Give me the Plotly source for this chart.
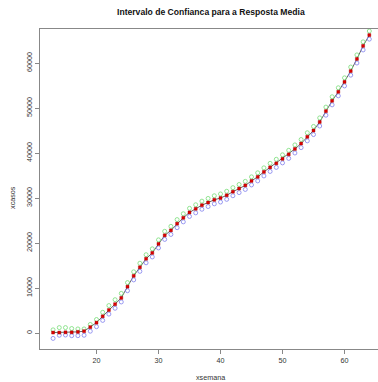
import plotly.graph_objects as go

semana = list(range(13, 65))

ajustado = [100, 100, 150, 150, 250, 400, 1300, 2300, 3700, 5100,
            6400, 7800, 10300, 12700, 14600, 16500, 17800, 19800, 21700, 22800,
            24300, 25600, 26800, 27600, 28400, 29000, 29600, 30000, 30600, 31400,
            32100, 32800, 33800, 34700, 35800, 36800, 37700, 38700, 39700, 40900,
            42100, 43600, 45000, 46900, 49300, 51600, 53600, 55800, 58200, 60900,
            63800, 66200]

superior = [700, 1200, 1200, 1000, 900, 900, 1900, 3000, 4600, 6100,
            7400, 8800, 11200, 13600, 15500, 17400, 18700, 20700, 22600, 23700,
            25200, 26500, 27700, 28500, 29300, 29900, 30500, 30900, 31500, 32300,
            33000, 33700, 34700, 35600, 36700, 37700, 38600, 39600, 40600, 41800,
            43000, 44500, 45900, 47800, 50200, 52500, 54500, 56700, 59100, 61800,
            64700, 67100]

inferior = [-1200, -500, -450, -600, -600, -500, 400, 1400, 2800, 4200,
            5500, 6900, 9400, 11800, 13700, 15600, 16900, 18900, 20800, 21900,
            23400, 24700, 25900, 26700, 27500, 28100, 28700, 29100, 29700, 30500,
            31200, 31900, 32900, 33800, 34900, 35900, 36800, 37800, 38800, 40000,
            41200, 42700, 44100, 46000, 48400, 50700, 52700, 54900, 57300, 60000,
            62900, 65300]

x_ticks = [20, 30, 40, 50, 60]
y_ticks = [0, 10000, 20000, 30000, 40000, 50000, 60000]
y_labels = ["0", "10000", "20000", "30000", "40000", "50000", "60000"]

FONT = "Liberation Sans, Arial, sans-serif"

fig = go.Figure()
fig.add_trace(go.Scatter(x=semana, y=ajustado, mode="lines",
                         line=dict(color="#666666", width=1), hoverinfo="skip"))
fig.add_trace(go.Scatter(x=semana, y=superior, mode="markers",
                         marker=dict(symbol="circle-open", size=4,
                                     color="#77dd77", line=dict(width=0.8))))
fig.add_trace(go.Scatter(x=semana, y=inferior, mode="markers",
                         marker=dict(symbol="circle-open", size=4,
                                     color="#8080ee", line=dict(width=0.8))))
fig.add_trace(go.Scatter(x=semana, y=ajustado, mode="markers",
                         marker=dict(symbol="square", size=3, color="#dd0000",
                                     line=dict(color="#990000", width=0.4))))

fig.update_layout(
    width=378, height=382,
    margin=dict(l=40, r=0, t=29, b=33),
    paper_bgcolor="white", plot_bgcolor="white",
    showlegend=False,
    font=dict(family=FONT, size=7.2, color="#333333"),
    xaxis=dict(range=[10.89, 65.4], tickvals=x_ticks, ticks="outside", ticklen=4,
               tickcolor="#888888", showgrid=False, zeroline=False,
               tickfont=dict(family=FONT, size=7.2, color="#333333"),
               showline=True, mirror=True, linecolor="#888888", linewidth=1),
    yaxis=dict(range=[-3556, 67556], tickvals=y_ticks, ticktext=y_labels,
               ticks="outside", ticklen=4,
               tickcolor="#888888", tickangle=-90, showgrid=False, zeroline=False,
               tickfont=dict(family=FONT, size=7.2, color="#333333"),
               showline=True, mirror=False, linecolor="#888888", linewidth=1),
    annotations=[
        dict(text="<b>Intervalo de Confianca para a Resposta Media</b>",
             xref="paper", yref="paper", x=0.506, y=1.053, showarrow=False,
             xanchor="center", yanchor="middle",
             font=dict(family=FONT, size=8.6, color="#111111")),
        dict(text="xsemana", xref="paper", yref="paper", x=0.503, y=-0.088,
             showarrow=False, xanchor="center", yanchor="middle",
             font=dict(family=FONT, size=7.2, color="#333333")),
        dict(text="xcasos", xref="paper", yref="paper", x=-0.083, y=0.475,
             showarrow=False, xanchor="center", yanchor="middle", textangle=-90,
             font=dict(family=FONT, size=7.2, color="#333333")),
    ],
)

fig.write_html("out.html")
